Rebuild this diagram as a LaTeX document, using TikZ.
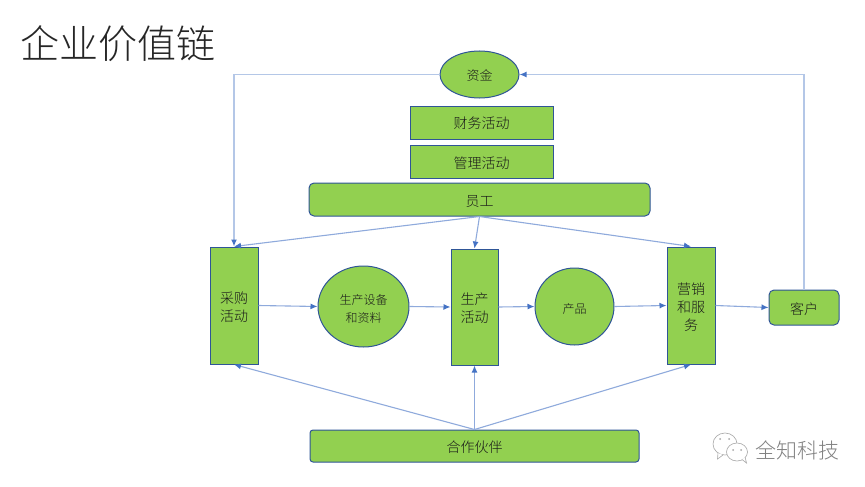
\documentclass[tikz,border=0pt]{standalone}
\usepackage{fontspec}
\setmainfont{Noto Sans CJK SC}
\newfontfamily\lightcjk{Noto Sans CJK SC Light}
\usetikzlibrary{arrows.meta,shapes.geometric}
\definecolor{fillg}{HTML}{92D050}
\definecolor{edgeb}{HTML}{2F5597}
\definecolor{linkb}{HTML}{8FAADC}
\definecolor{loopb}{HTML}{B4C7E7}
\definecolor{tipb}{HTML}{4472C4}
\newcommand{\tx}[1]{\raisebox{-4.5pt}[7pt][3pt]{#1}}
\tikzset{
  x=1pt,y=-1pt,
  base/.style={draw=edgeb,fill=fillg,line width=1pt,inner sep=0pt,align=center,font=\lightcjk\fontsize{14}{18}\selectfont,text=black!90},
  boxn/.style={base,rectangle},
  roundn/.style={base,rectangle,rounded corners=5pt},
  oval/.style={base,ellipse},
  link/.style={draw=linkb,line width=1.1pt,-{Latex[length=7pt,width=6pt,color=tipb]}},
  looplink/.style={link,draw=loopb,line width=1.5pt},
  dim/.style 2 args={minimum width=#1pt,minimum height=#2pt},
  wechat/.style={draw=black!35,line width=0.6pt,fill=white}
}
\begin{document}
\begin{tikzpicture}
\useasboundingbox (0,0) rectangle (865,487);
\fill[white] (0,0) rectangle (865,487);
\node[anchor=west,inner sep=0pt,font=\lightcjk\fontsize{39}{44}\selectfont,text=black!85] (title) at (20,44) {企业价值链};
\node[oval,dim={79}{47}] (fund) at (479.5,74.5) {\fontsize{13}{16}\selectfont\tx{资金}};
\node[boxn,dim={143}{33}] (fin) at (481.5,122.5) {\tx{财务活动}};
\node[boxn,dim={143}{33}] (mgt) at (481.5,161.5) {\tx{管理活动}};
\node[roundn,dim={341}{33}] (staff) at (479.5,199.5) {\tx{员工}};
\node[boxn,dim={48}{117}] (buy) at (234,305.5) {\tx{采购}\\\tx{活动}};
\node[oval,dim={91}{81}] (equip) at (363.5,306.5) {\fontsize{12}{16}\selectfont\tx{生产设备}\\\fontsize{12}{16}\selectfont\tx{和资料}};
\node[boxn,dim={47}{116}] (make) at (474.5,307) {\tx{生产}\\\tx{活动}};
\node[oval,dim={79}{77}] (prod) at (574.5,306.5) {\fontsize{12}{16}\selectfont\tx{产品}};
\node[boxn,dim={48}{117}] (sale) at (691,305.5) {\tx{营销}\\\tx{和服}\\\tx{务}};
\node[roundn,dim={70}{35}] (client) at (804,307.5) {\tx{客户}};
\node[roundn,rounded corners=3pt,dim={329}{32}] (partner) at (474.5,446) {\tx{合作伙伴}};
% feedback loop
\draw[looplink] (fund.west) -| (buy.north);
\draw[looplink] (client.north) |- (fund.east);
% staff support
\draw[link] (staff.south) -- (buy.north);
\draw[link] (staff.south) -- (make.north);
\draw[link] (staff.south) -- (sale.north);
% main chain
\draw[link] (buy.east) -- (equip.west);
\draw[link] (equip.east) -- (make.west);
\draw[link] (make.east) -- (prod.west);
\draw[link] (prod.east) -- (sale.west);
\draw[link] (sale.east) -- (client.west);
% partners
\draw[link] (partner.north) -- (buy.south);
\draw[link] (partner.north) -- (make.south);
\draw[link] (partner.north) -- (sale.south);
% watermark
\draw[wechat] (725,444) ellipse (12 and 11);
\draw[wechat] (718,453) -- (717.5,459) -- (723,455);
\draw[wechat] (737,452) ellipse (10.5 and 9);
\draw[wechat] (742,459.5) -- (746.5,463) -- (745,457);
\fill[black!35] (720,439) circle (1) (729,439) circle (1) (733,450) circle (1) (741,450) circle (1);
\node[inner sep=0pt,anchor=west,font=\lightcjk\fontsize{21}{24}\selectfont,text=black!50] (wm) at (755,450) {全知科技};
\end{tikzpicture}
\end{document}
